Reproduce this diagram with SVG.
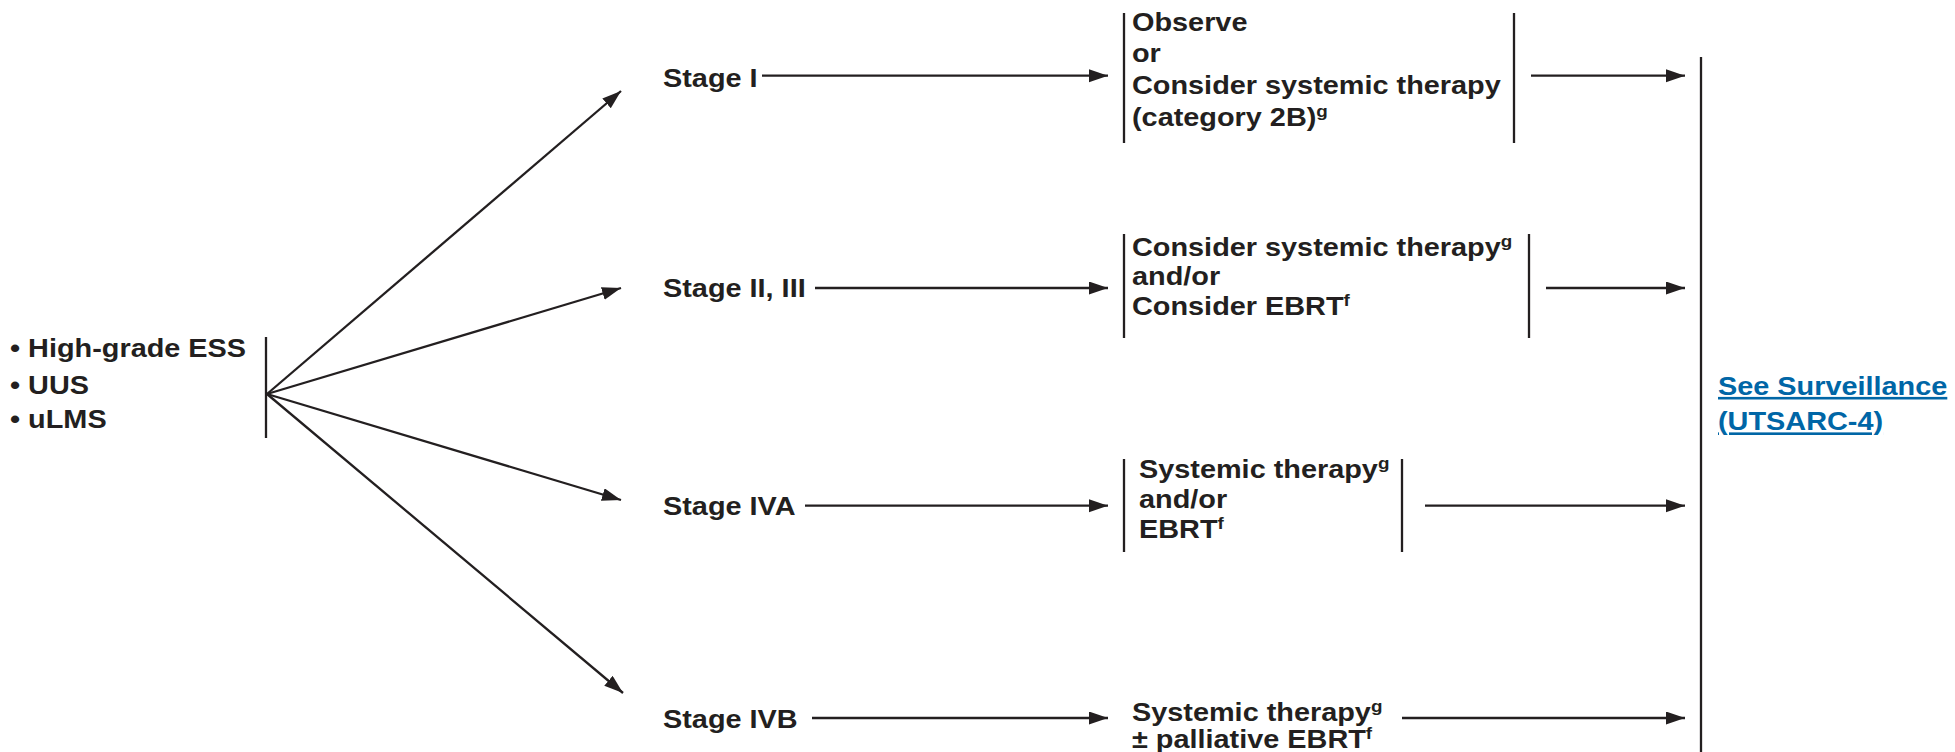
<svg xmlns="http://www.w3.org/2000/svg" width="1955" height="752" viewBox="0 0 1955 752">
<style>
.t{font-family:"Liberation Sans",Arial,Helvetica,sans-serif;font-weight:bold;font-size:26px;fill:#231f20}
.sup{font-size:17px}
.link{fill:#0066a6;text-decoration:underline}
.ln{stroke:#231f20;stroke-width:2.3;fill:none}
.ar{stroke:#231f20;stroke-width:2.3;fill:none;marker-end:url(#ah)}
</style>
<defs>
<marker id="ah" markerUnits="userSpaceOnUse" markerWidth="20" markerHeight="14" refX="19" refY="6.5" orient="auto">
<path d="M0,0 L19,6.5 L0,13 z" fill="#231f20"/>
</marker>
</defs>
<rect width="1955" height="752" fill="#ffffff"/>
<g id="n-start">
<text class="t" transform="translate(10 357) scale(1.11 1)"><tspan x="0" y="0">• High-grade ESS</tspan><tspan x="0" y="37">• UUS</tspan><tspan x="0" y="71">• uLMS</tspan></text>
<line class="ln" x1="266" y1="337" x2="266" y2="438"/>
</g>
<g id="n-stage1"><text class="t" transform="translate(663 87) scale(1.11 1)">Stage I</text></g>
<g id="n-stage23"><text class="t" transform="translate(663 297) scale(1.11 1)">Stage II, III</text></g>
<g id="n-stage4a"><text class="t" transform="translate(663 515) scale(1.11 1)">Stage IVA</text></g>
<g id="n-stage4b"><text class="t" transform="translate(663 728) scale(1.11 1)">Stage IVB</text></g>
<g id="n-box1">
<line class="ln" x1="1124" y1="13" x2="1124" y2="143"/>
<text class="t" transform="translate(1132 30.5) scale(1.11 1)"><tspan x="0" y="0">Observe</tspan><tspan x="0" y="31.5">or</tspan><tspan x="0" y="63.5">Consider systemic therapy</tspan><tspan x="0" y="95.5">(category 2B)</tspan><tspan class="sup" dy="-9">g</tspan></text>
<line class="ln" x1="1514" y1="13" x2="1514" y2="143"/>
</g>
<g id="n-box2">
<line class="ln" x1="1124" y1="234" x2="1124" y2="338"/>
<text class="t" transform="translate(1132 256) scale(1.11 1)"><tspan x="0" y="0">Consider systemic therapy</tspan><tspan class="sup" dy="-9">g</tspan><tspan x="0" y="29.5">and/or</tspan><tspan x="0" y="59">Consider EBRT</tspan><tspan class="sup" dy="-9">f</tspan></text>
<line class="ln" x1="1529" y1="234" x2="1529" y2="338"/>
</g>
<g id="n-box3">
<line class="ln" x1="1124" y1="459" x2="1124" y2="552"/>
<text class="t" transform="translate(1139 478) scale(1.11 1)"><tspan x="0" y="0">Systemic therapy</tspan><tspan class="sup" dy="-9">g</tspan><tspan x="0" y="30">and/or</tspan><tspan x="0" y="60">EBRT</tspan><tspan class="sup" dy="-9">f</tspan></text>
<line class="ln" x1="1402" y1="459" x2="1402" y2="552"/>
</g>
<g id="n-box4">
<text class="t" transform="translate(1132 721) scale(1.11 1)"><tspan x="0" y="0">Systemic therapy</tspan><tspan class="sup" dy="-9">g</tspan><tspan x="0" y="27">± palliative EBRT</tspan><tspan class="sup" dy="-9">f</tspan></text>
</g>
<g id="n-surv">
<line class="ln" x1="1701" y1="57" x2="1701" y2="752"/>
<text class="t link" transform="translate(1718 395) scale(1.11 1)"><tspan x="0" y="0">See Surveillance</tspan><tspan x="0" y="35.5">(UTSARC-4)</tspan></text>
</g>
<g id="connectors">
<line class="ar" x1="267" y1="394" x2="621" y2="91"/>
<line class="ar" x1="267" y1="394" x2="621" y2="288"/>
<line class="ar" x1="267" y1="394" x2="621" y2="500"/>
<line class="ar" x1="267" y1="394" x2="623" y2="693"/>
<line class="ar" x1="762" y1="75.7" x2="1108" y2="75.7"/>
<line class="ar" x1="815" y1="288" x2="1108" y2="288"/>
<line class="ar" x1="805" y1="505.7" x2="1108" y2="505.7"/>
<line class="ar" x1="812" y1="718" x2="1108" y2="718"/>
<line class="ar" x1="1531" y1="75.7" x2="1685" y2="75.7"/>
<line class="ar" x1="1546" y1="288" x2="1685" y2="288"/>
<line class="ar" x1="1425" y1="505.7" x2="1685" y2="505.7"/>
<line class="ar" x1="1402" y1="718" x2="1685" y2="718"/>
</g>
</svg>
